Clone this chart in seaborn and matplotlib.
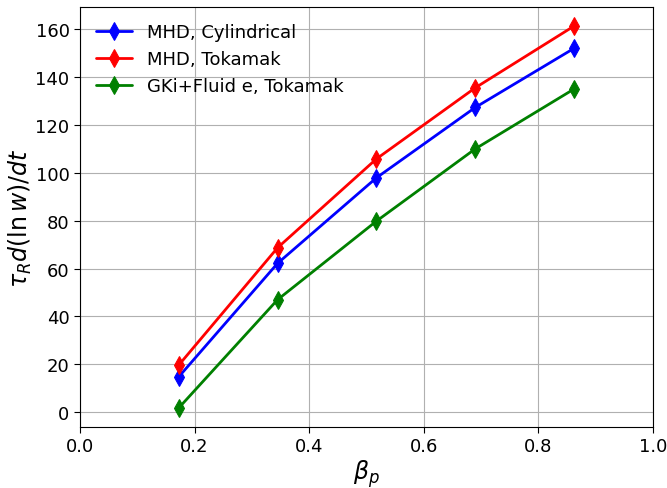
import matplotlib
matplotlib.use("Agg")
import matplotlib.pyplot as plt
import seaborn as sns
import pandas as pd

beta_p = [0.1724, 0.3448, 0.5172, 0.6897, 0.8621]
mhd_cyl = [14.8, 62.2, 97.9, 127.3, 152.0]
mhd_tok = [19.7, 68.7, 105.8, 135.5, 161.3]
gki_tok = [1.8, 47.0, 79.8, 110.0, 135.0]
series_names = ["MHD, Cylindrical", "MHD, Tokamak", "GKi+Fluid e, Tokamak"]
colors = ["blue", "red", "green"]

df = pd.DataFrame({
    "beta": beta_p * 3,
    "val": mhd_cyl + mhd_tok + gki_tok,
    "series": [series_names[0]] * 5 + [series_names[1]] * 5 + [series_names[2]] * 5,
})

sns.set_style("white")
plt.rcParams['font.family'] = ['DejaVu Sans']
plt.rcParams['text.color'] = 'black'
plt.rcParams['axes.labelcolor'] = 'black'
plt.rcParams['xtick.color'] = 'black'
plt.rcParams['ytick.color'] = 'black'
fig = plt.figure(figsize=(6.67, 4.89), dpi=100)
ax = fig.add_axes([80/667, 1 - 428/489, (653-80)/667, (428-8)/489])
for name, c in zip(series_names, colors):
    sub = df[df.series == name]
    sns.lineplot(data=sub, x="beta", y="val", ax=ax, color=c, marker="d",
                 markersize=9, linewidth=2, markeredgecolor=c, label=name)
ax.set_xlim(0, 1)
ax.grid(True, color="#b0b0b0", linewidth=0.8)
for s in ax.spines.values():
    s.set_color("black")
ax.tick_params(axis="both", labelsize=13, direction="out", length=4, width=0.8,
               left=True, bottom=True, color="black", labelcolor="black")
ax.set_xlabel(r"$\beta_p$", fontsize=17, labelpad=1)
ax.set_ylabel(r"$\tau_R d(\ln w)/dt$", fontsize=17, labelpad=1)
ax.legend(loc="upper left", frameon=False, fontsize=13, handlelength=2, borderaxespad=0.5)
fig.savefig("out.png", dpi=100)
